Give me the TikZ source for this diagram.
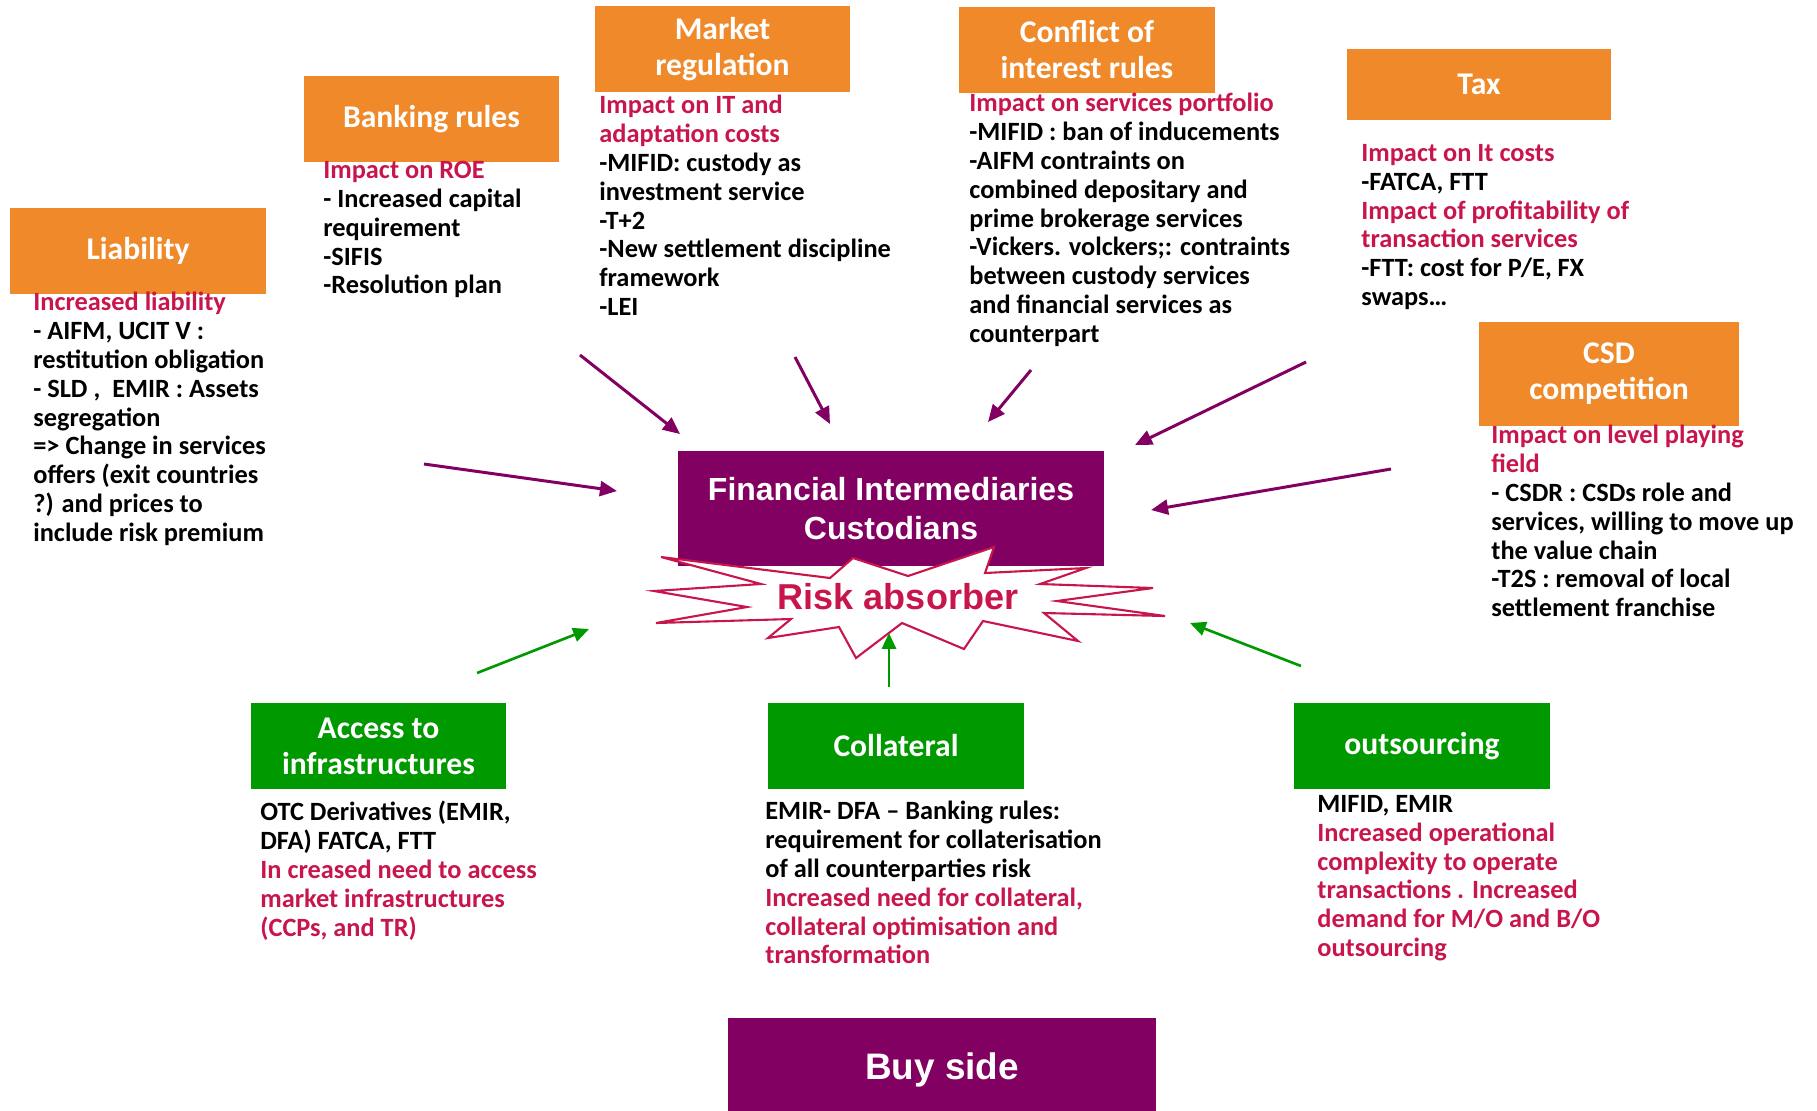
\documentclass[tikz,border=0pt]{standalone}
\usepackage{fontspec}
\setmainfont{Carlito}
\newfontfamily\arialfont{Liberation Sans}
\usetikzlibrary{arrows.meta}
\definecolor{regorange}{RGB}{239,137,42}
\definecolor{plum}{RGB}{130,0,98}
\definecolor{leafgreen}{RGB}{0,153,0}
\definecolor{impact}{RGB}{200,22,76}
\newcommand{\imp}[1]{\textcolor{impact}{#1}}
\begin{document}
\begin{tikzpicture}[x=0.02cm,y=-0.02cm,
	obox/.style={fill=regorange,text=white,align=center,inner sep=0pt,font=\bfseries\fontsize{18}{20.5}\selectfont},
	gbox/.style={fill=leafgreen,text=white,align=center,inner sep=0pt,font=\bfseries\fontsize{18}{20.5}\selectfont},
	pbox/.style={fill=plum,text=white,align=center,inner sep=0pt,font=\arialfont\bfseries\fontsize{18.2}{22.2}\selectfont},
	notes/.style={anchor=north west,align=left,inner sep=0pt,font=\bfseries\fontsize{15}{16.4}\selectfont},
	parrow/.style={draw=plum,line width=1.7pt,-{Triangle[length=9.7pt,width=8.5pt]}},
	garrow/.style={draw=leafgreen,line width=1.5pt,-{Triangle[length=9pt,width=8pt]}}]
	\useasboundingbox (0,0) rectangle (1817,1110);

	\node[obox,minimum width=5.12cm,minimum height=1.72cm] (liab) at (138,251) {Liability};
	\node[obox,minimum width=5.1cm,minimum height=1.72cm] (bank) at (431.5,119) {Banking rules};
	\node[obox,minimum width=5.1cm,minimum height=1.72cm] (market) at (722.5,49) {Market\\regulation};
	\node[obox,minimum width=5.12cm,minimum height=1.72cm] (conflict) at (1087,50) {Conflict of\\interest rules};
	\node[obox,minimum width=5.28cm,minimum height=1.42cm] (tax) at (1479,84.5) {Tax};
	\node[obox,minimum width=5.2cm,minimum height=2.08cm] (csd) at (1609,374) {CSD\\competition};
	\node[gbox,minimum width=5.1cm,minimum height=1.72cm] (access) at (378.5,746) {Access to\\infrastructures};
	\node[gbox,minimum width=5.12cm,minimum height=1.72cm] (coll) at (896,746) {Collateral};
	\node[gbox,minimum width=5.12cm,minimum height=1.72cm] (outs) at (1422,746) {outsourcing};

	\node[pbox,minimum width=8.52cm,minimum height=2.3cm] (fic) at (891,508.5) {Financial Intermediaries\\Custodians};
	\node[pbox,minimum width=8.56cm,minimum height=2.08cm,font=\arialfont\bfseries\fontsize{21}{24}\selectfont] (buy) at (942,1070) {Buy side};

	\draw[draw=impact,line width=1.2pt,fill=white,line join=miter]
		(661,557) -- (830,578) -- (853,558) -- (908,576) -- (994,547) -- (985,573)
		-- (1086,568) -- (1040,584) -- (1153,588) -- (1057,601) -- (1165,616) -- (1044,613)
		-- (1078,641) -- (983,621) -- (964,649) -- (902,623) -- (856,658) -- (839,627)
		-- (768,638) -- (791,619) -- (656,623) -- (747,607) -- (654,591) -- (761,584) -- cycle;
	\node[text=impact,font=\arialfont\bfseries\fontsize{20.5}{24}\selectfont] (risk) at (898,597) {Risk absorber};

	\node[notes] (liabtxt) at (33,292) {\imp{Increased liability}\\
		- AIFM, UCIT V :\\
		restitution obligation\\
		- SLD ,\ \ EMIR : Assets\\
		segregation\\
		=> Change in services\\
		offers (exit countries\\
		?) and prices to\\
		include risk premium};
	\node[notes] (banktxt) at (323,161) {\imp{Impact on ROE}\\
		- Increased capital\\
		requirement\\
		-SIFIS\\
		-Resolution plan};
	\node[notes] (markettxt) at (599,95) {\imp{Impact on IT and}\\
		\imp{adaptation costs}\\
		-MIFID: custody as\\
		investment service\\
		-T+2\\
		-New settlement discipline\\
		framework\\
		-LEI};
	\node[notes] (conflicttxt) at (969,93) {\imp{Impact on services portfolio}\\
		-MIFID : ban of inducements\\
		-AIFM contraints on\\
		combined depositary and\\
		prime brokerage services\\
		-Vickers. volckers;: contraints\\
		between custody services\\
		and financial services as\\
		counterpart};
	\node[notes] (taxtxt) at (1361,144) {\imp{Impact on It costs}\\
		-FATCA, FTT\\
		\imp{Impact of profitability of}\\
		\imp{transaction services}\\
		-FTT: cost for P/E, FX\\
		swaps…};
	\node[notes] (csdtxt) at (1491,425) {\imp{Impact on level playing}\\
		\imp{field}\\
		- CSDR : CSDs role and\\
		services, willing to move up\\
		the value chain\\
		-T2S : removal of local\\
		settlement franchise};
	\node[notes] (accesstxt) at (260,801) {OTC Derivatives (EMIR,\\
		DFA) FATCA, FTT\\
		\imp{In creased need to access}\\
		\imp{market infrastructures}\\
		\imp{(CCPs, and TR)}};
	\node[notes] (colltxt) at (765,801) {EMIR- DFA – Banking rules:\\
		requirement for collaterisation\\
		of all counterparties risk\\
		\imp{Increased need for collateral,}\\
		\imp{collateral optimisation and}\\
		\imp{transformation}};
	\node[notes] (outstxt) at (1317,795) {MIFID, EMIR\\
		\imp{Increased operational}\\
		\imp{complexity to operate}\\
		\imp{transactions . Increased}\\
		\imp{demand for M/O and B/O}\\
		\imp{outsourcing}};

	\coordinate (liabfrom) at (424,464);
	\coordinate (liabto) at (617,491);
	\coordinate (bankfrom) at (580,355);
	\coordinate (bankto) at (680,434);
	\coordinate (marketfrom) at (795,357);
	\coordinate (marketto) at (830,424);
	\coordinate (conflictfrom) at (1031,370);
	\coordinate (conflictto) at (988,422);
	\coordinate (taxfrom) at (1306,362);
	\coordinate (taxto) at (1135,445);
	\coordinate (csdfrom) at (1391,469);
	\coordinate (csdto) at (1151,510);
	\coordinate (accessfrom) at (477,673);
	\coordinate (accessto) at (589,629);
	\coordinate (collfrom) at (889,687);
	\coordinate (collto) at (889,633);
	\coordinate (outsfrom) at (1301,666);
	\coordinate (outsto) at (1190,623);

	\draw[parrow] (liabfrom) -- (liabto);
	\draw[parrow] (bankfrom) -- (bankto);
	\draw[parrow] (marketfrom) -- (marketto);
	\draw[parrow] (conflictfrom) -- (conflictto);
	\draw[parrow] (taxfrom) -- (taxto);
	\draw[parrow] (csdfrom) -- (csdto);
	\draw[garrow] (accessfrom) -- (accessto);
	\draw[garrow] (collfrom) -- (collto);
	\draw[garrow] (outsfrom) -- (outsto);
\end{tikzpicture}
\end{document}
